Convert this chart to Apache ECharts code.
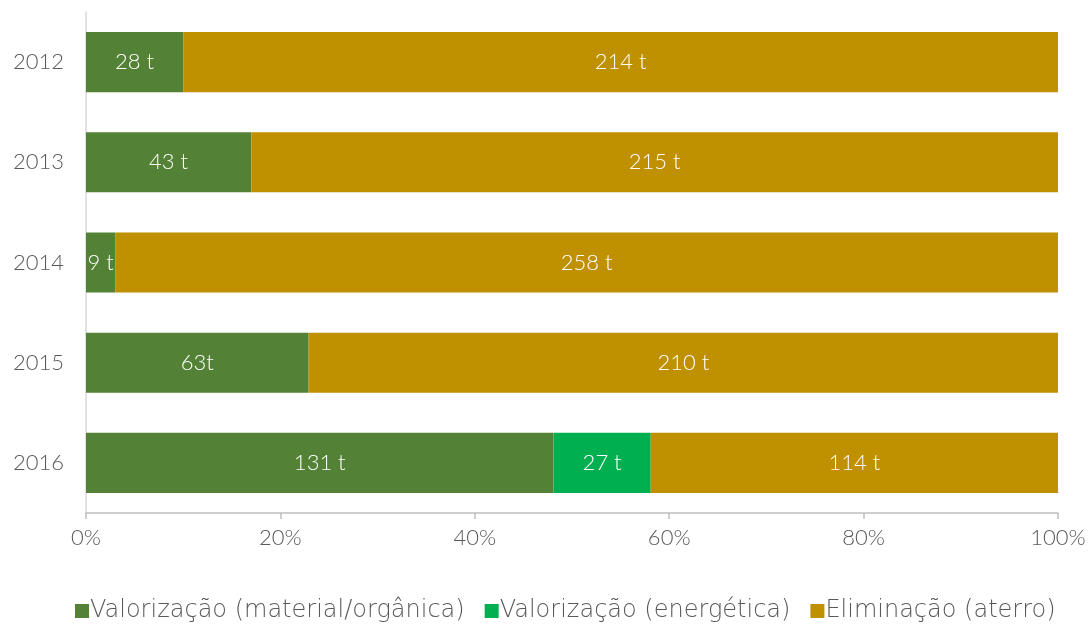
<!DOCTYPE html>
<html>
<head>
<meta charset="utf-8">
<script src="https://cdn.jsdelivr.net/npm/echarts@6/dist/echarts.min.js"></script>
<style>html,body{margin:0;padding:0;background:#fff}#c{width:1091px;height:628px}</style>
</head>
<body>
<div id="c"></div>
<script>
const years = ['2012', '2013', '2014', '2015', '2016'];
const seriesNames = ['Valorização (material/orgânica)', 'Valorização (energética)', 'Eliminação (aterro)'];
// bar shares (%) as drawn
const shareMaterial = [10, 17, 3, 22.9, 48.1];
const shareEnergy = [0, 0, 0, 0, 10];
const shareLandfill = [90, 83, 97, 77.1, 41.9];
// labels in tonnes
const labelMaterial = ['28 t', '43 t', '9 t', '63t', '131 t'];
const labelEnergy = ['', '', '', '', '27 t'];
const labelLandfill = ['214 t', '215 t', '258 t', '210 t', '114 t'];
const xTicks = [0, 20, 40, 60, 80, 100];

const colors = ['#538135', '#00B050', '#BF9000'];
const font = 'Lato, "Open Sans", sans-serif';
const wideFont = '"DejaVu Sans", sans-serif';

function mk(name, vals, labels, color) {
  return {
    name: name, type: 'bar', stack: 'all', barWidth: '60%',
    itemStyle: { color: color },
    label: {
      show: true, position: 'inside', color: '#ffffff', fontSize: 22, fontWeight: 300, fontFamily: font,
      formatter: p => labels[p.dataIndex]
    },
    data: vals
  };
}

const chart = echarts.init(document.getElementById('c'));
chart.setOption({
  animation: false,
  textStyle: { fontFamily: font },
  grid: { left: 86, right: 33, top: 12, bottom: 115, containLabel: false },
  legend: {
    bottom: 0, left: 70, itemWidth: 14, itemHeight: 14, itemGap: 20,
    icon: 'rect',
    textStyle: { color: '#595959', fontSize: 24, fontWeight: 200, fontFamily: wideFont, padding: [0, 0, 0, -4] },
    data: seriesNames
  },
  xAxis: {
    type: 'value', min: 0, max: 100, interval: 20,
    axisLine: { show: true, lineStyle: { color: '#bfbfbf', width: 1.5 } },
    axisTick: { show: true, length: 6, lineStyle: { color: '#bfbfbf', width: 1.5 } },
    splitLine: { show: false },
    axisLabel: { color: '#595959', fontSize: 22, fontWeight: 300, margin: 14, formatter: v => xTicks.includes(v) ? v + '%' : '' }
  },
  yAxis: {
    type: 'category', data: years, inverse: true,
    axisLine: { show: true, lineStyle: { color: '#d9d9d9', width: 1.5 } },
    axisTick: { show: false },
    axisLabel: { color: '#595959', fontSize: 22, fontWeight: 300, margin: 22 }
  },
  series: [
    mk(seriesNames[0], shareMaterial, labelMaterial, colors[0]),
    mk(seriesNames[1], shareEnergy, labelEnergy, colors[1]),
    mk(seriesNames[2], shareLandfill, labelLandfill, colors[2])
  ]
});
</script>
</body>
</html>
